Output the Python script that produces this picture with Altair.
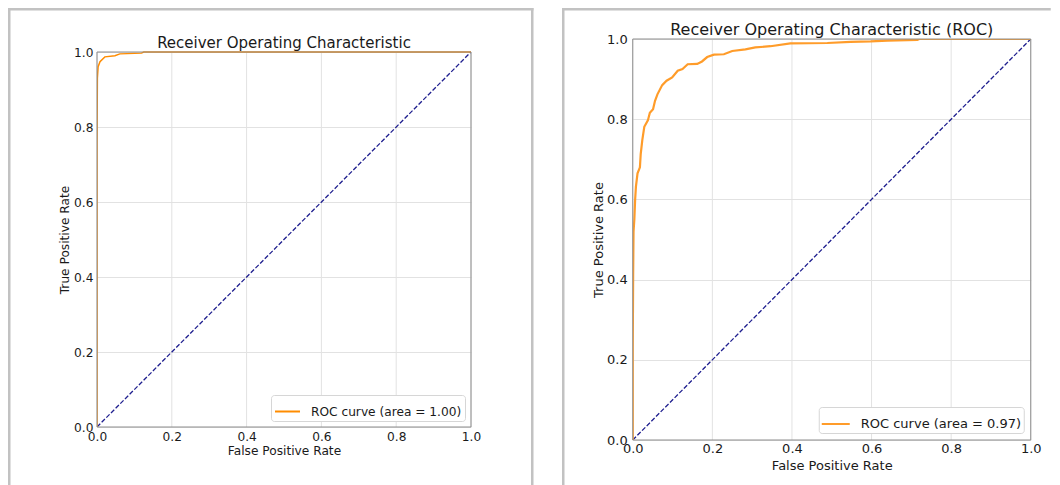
import altair as alt
import pandas as pd

FONT = "DejaVu Sans"
TEXT = "#1a1a1a"
GRID = "#e2e2e2"
SPINE = "#8c8c8c"
FRAME = "#c2c2c2"
NAVY = "#1f1f8f"

# ---------------- data ----------------
ticks = [0.0, 0.2, 0.4, 0.6, 0.8, 1.0]
diag_x = [0.0, 1.0]
diag_y = [0.0, 1.0]

left_title = "Receiver Operating Characteristic"
left_label = "ROC curve (area = 1.00)"
left_fpr = [0.0, 0.0, 0.001, 0.003, 0.008, 0.021, 0.048, 0.061, 0.119, 0.125, 1.0]
left_tpr = [0.0, 0.76, 0.93, 0.961, 0.974, 0.987, 0.99, 0.995, 0.997, 1.0, 1.0]

right_title = "Receiver Operating Characteristic (ROC)"
right_label = "ROC curve (area = 0.97)"
right_fpr = [0.0, 0.0, 0.001, 0.002, 0.004, 0.006, 0.008, 0.012, 0.018, 0.020,
             0.024, 0.029, 0.038, 0.043, 0.051, 0.056, 0.062, 0.074, 0.085, 0.099,
             0.113, 0.125, 0.138, 0.162, 0.174, 0.187, 0.204, 0.229, 0.250, 0.283,
             0.308, 0.346, 0.396, 0.489, 0.547, 0.598, 0.640, 0.715, 0.720, 1.0]
right_tpr = [0.0, 0.23, 0.41, 0.52, 0.55, 0.60, 0.632, 0.665, 0.68, 0.713,
             0.748, 0.781, 0.797, 0.816, 0.825, 0.846, 0.862, 0.885, 0.896, 0.904,
             0.921, 0.925, 0.937, 0.938, 0.944, 0.955, 0.961, 0.962, 0.970, 0.974,
             0.979, 0.982, 0.989, 0.990, 0.993, 0.994, 0.996, 0.998, 1.0, 1.0]

one_row = pd.DataFrame({"k": [0]})
tick_df = pd.DataFrame({"t": ticks})


def frame_bar(x, x2, y, y2):
    # decorative outer panel frame (filled strip, no stroke)
    return alt.Chart(one_row).mark_rect(color=FRAME, strokeWidth=0).encode(
        x=alt.value(x), x2=alt.value(x2), y=alt.value(y), y2=alt.value(y2))


def panel(fpr, tpr, title, label, w, h, extra_top, fs_title, fs, title_off,
          xlab_pad, xtitle_pad, ylab_pad, ytitle_pad,
          line_w, line_color, leg_offset, leg_pad, sym_size, frames):
    curve_df = pd.DataFrame({"fpr": fpr, "tpr": tpr,
                             "i": list(range(len(fpr))), "series": [label] * len(fpr)})
    diag_df = pd.DataFrame({"fpr": diag_x, "tpr": diag_y})

    H = h + extra_top  # nominal height; the data area is the lower h pixels
    xscale = alt.Scale(domain=[0, 1], nice=False, zero=False)
    yscale = alt.Scale(domain=[0, 1 + extra_top / h], nice=False, zero=False)
    common = dict(values=ticks, format=".1f", domain=False, ticks=False,
                  labelFont=FONT, titleFont=FONT, gridColor=GRID, gridWidth=1,
                  labelFontSize=fs, titleFontSize=fs, labelColor=TEXT, titleColor=TEXT,
                  titleFontWeight="normal", labelFlush=False, labelOverlap=False)
    xaxis = alt.Axis(title="False Positive Rate", labelPadding=xlab_pad, grid=False,
                     titlePadding=xtitle_pad, **common)
    yaxis = alt.Axis(title="True Positive Rate", labelPadding=ylab_pad, grid=True,
                     titlePadding=ytitle_pad, titleY=extra_top + h / 2, **common)

    vgrid = alt.Chart(tick_df).mark_rule(color=GRID, strokeWidth=1).encode(
        x=alt.X("t:Q", scale=xscale, axis=xaxis),
        y=alt.YDatum(0, scale=yscale, axis=yaxis), y2=alt.Y2Datum(1),
    )
    spines = alt.Chart(one_row).mark_rect(
        fill="white", fillOpacity=0, stroke=SPINE, strokeWidth=1
    ).encode(x=alt.XDatum(0, scale=xscale), x2=alt.X2Datum(1),
             y=alt.YDatum(0, scale=yscale), y2=alt.Y2Datum(1))

    diag = alt.Chart(diag_df).mark_line(
        color=NAVY, strokeWidth=1.3, strokeDash=[4.6, 2], clip=True
    ).encode(x=alt.X("fpr:Q", scale=xscale, axis=xaxis),
             y=alt.Y("tpr:Q", scale=yscale, axis=yaxis))

    curve = alt.Chart(curve_df).mark_line(strokeWidth=line_w, clip=True).encode(
        x=alt.X("fpr:Q", scale=xscale, axis=xaxis),
        y=alt.Y("tpr:Q", scale=yscale, axis=yaxis),
        order=alt.Order("i:Q"),
        color=alt.Color("series:N", scale=alt.Scale(range=[line_color]),
                        legend=alt.Legend(title=None, orient="bottom-right",
                                          offset=leg_offset, padding=leg_pad,
                                          strokeColor="#d6d6d6", fillColor="white",
                                          cornerRadius=3, symbolType="stroke",
                                          symbolSize=sym_size, symbolStrokeWidth=2,
                                          labelFont=FONT, labelFontSize=fs,
                                          labelColor=TEXT, labelOffset=10,
                                          labelLimit=400)),
    )

    layers = [frame_bar(*f) for f in frames] + [vgrid, diag, curve, spines]
    return alt.layer(*layers).properties(
        width=w, height=H,
        title=alt.Title(title, font=FONT, fontSize=fs_title, fontWeight="normal",
                        color=TEXT, frame="group", anchor="middle",
                        baseline="alphabetic", offset=title_off),
    )


left = panel(left_fpr, left_tpr, left_title, left_label, 374, 375, 13, 15, 12.2, -55,
             3.9, 1.8, 4, 2, 1.5, "#ff8c00", 6, 3, 625,
             frames=[(-89, 436.5, -31, -28.5),
                     (-89, -86.5, -31, 446),
                     (434, 436.5, -31, 446)])

right = panel(right_fpr, right_tpr, right_title, right_label, 398, 401, 0, 16, 13, -42.5,
              2.5, 3.7, 5.5, 1.5, 2.2, "#ff9c2a", 7, 2, 784,
              frames=[(-70.75, 418, -31, -28.5),
                      (-70.75, -68.25, -31, 446)])

chart = alt.concat(left, right, columns=2, spacing=27.75, align="none").resolve_scale(
    color="independent"
).resolve_legend(color="independent").properties(padding=0).configure_view(
    stroke=None
)

chart.save("out.html", embed_options={"renderer": "svg", "actions": False})
